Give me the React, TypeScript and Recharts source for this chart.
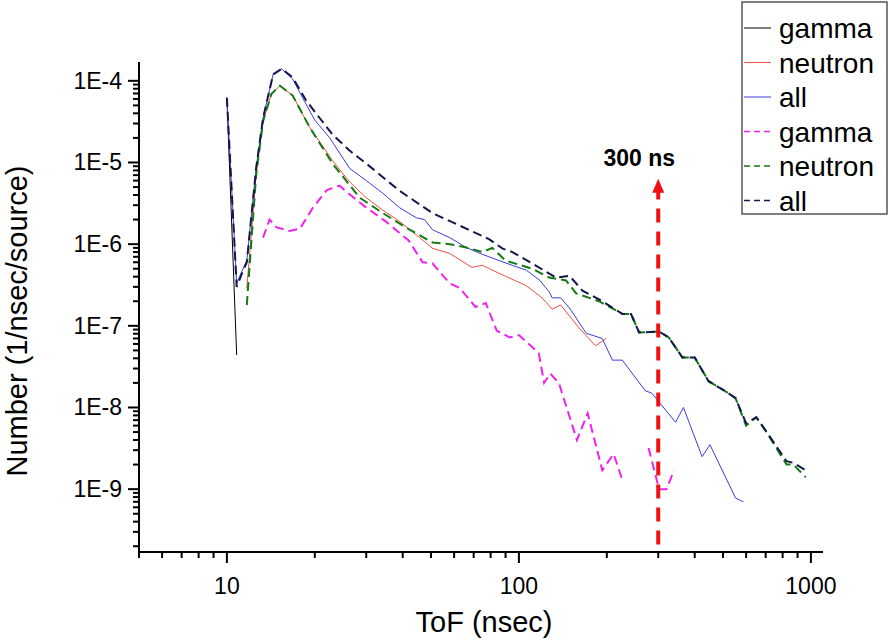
import React from "react";
import { LineChart, Line, XAxis, YAxis, Legend, ReferenceLine } from "recharts";

type Pt = [number, number | null];

// ToF (nsec) vs Number (1/nsec/source)
const gammaSolid: Pt[] = [
  [10, 6.2e-5], [10.8, 4.4e-8],
];

const neutronSolid: Pt[] = [
  [11.7, 2.9e-7], [12.6, 7.2e-6], [13.3, 3.2e-5], [14.2, 6.9e-5], [15.2, 8.7e-5],
  [16.8, 6.6e-5], [19.2, 2.7e-5], [21, 1.7e-5], [23, 1.05e-5], [26.3, 5.8e-6],
  [30, 3.7e-6], [34.2, 2.6e-6], [39, 1.9e-6], [45.7, 1.2e-6], [50.6, 8.9e-7],
  [58, 7.7e-7], [69, 5.2e-7], [75, 5.5e-7], [85.5, 4.4e-7], [106, 3.1e-7],
  [120, 2.2e-7], [130, 1.6e-7], [139, 1.8e-7], [160, 9.6e-8], [183, 5.7e-8],
  [199, 7e-8],
];

const allSolid: Pt[] = [
  [10, 6.2e-5], [10.8, 3.3e-7], [11.3, 4.8e-7], [11.7, 6.3e-7], [12.6, 8.7e-6],
  [13.3, 3.5e-5], [14.4, 1.2e-4], [15.4, 1.4e-4], [16.8, 1.05e-4], [18.5, 5.5e-5],
  [20, 3.3e-5], [22.5, 2.0e-5], [26.3, 8.5e-6], [30, 6e-6], [34.2, 4.2e-6],
  [39, 2.8e-6], [44.6, 2.1e-6], [47.5, 2.0e-6], [50.6, 1.5e-6], [58, 1.2e-6],
  [66, 9.1e-7], [75, 7.5e-7], [85.5, 6.3e-7], [95, 5.5e-7], [106, 4.8e-7],
  [118, 3.6e-7], [127, 2.6e-7], [130, 2.2e-7], [139, 2.2e-7], [150, 1.6e-7],
  [170, 8.1e-8], [193, 7e-8], [209, 3.8e-8], [226, 3.8e-8], [271, 1.6e-8],
  [285, 1.5e-8], [344, 6.6e-9], [366, 1e-8], [424, 2.5e-9], [451, 3.5e-9],
  [552, 7.8e-10], [587, 7e-10],
];

const gammaDashed: Pt[] = [
  [13.3, 1.2e-6], [14.0, 2.0e-6], [14.8, 1.6e-6], [16.4, 1.45e-6], [17.8, 1.55e-6],
  [19.7, 2.8e-6], [22, 4.6e-6], [24.3, 5.2e-6], [26.5, 4.0e-6], [30, 2.8e-6],
  [35, 1.9e-6], [42, 1.1e-6], [46.8, 6e-7], [50.6, 5.8e-7], [58, 3.3e-7],
  [62.7, 2.9e-7], [71, 1.7e-7], [77, 1.9e-7], [84, 8.7e-8], [93, 7.2e-8],
  [100, 7.7e-8], [111, 5.5e-8], [117, 4.6e-8], [122, 2e-8], [128, 2.6e-8],
  [137, 2.0e-8], [158, 4e-9], [172, 8.5e-9], [193, 1.7e-9], [211, 2.7e-9],
  [226, 1.3e-9], [250, null], [278, 3.2e-9], [302, 1.0e-9], [320, 1.0e-9],
  [340, 1.7e-9],
];

const neutronDashed: Pt[] = [
  [11.7, 1.8e-7], [12.6, 7.2e-6], [13.3, 3.2e-5], [14.2, 6.9e-5], [15.2, 8.7e-5],
  [16.8, 6.6e-5], [19.2, 2.7e-5], [23, 9.7e-6], [28.5, 3.7e-6], [34.2, 2.4e-6],
  [41, 1.6e-6], [50.6, 1.05e-6], [58, 1.0e-6], [66, 9.1e-7], [75, 8e-7],
  [81, 9e-7], [90, 6.3e-7], [111, 5.0e-7], [127, 3.9e-7], [145, 3.6e-7],
  [157, 2.5e-7], [188, 2.0e-7], [226, 1.4e-7], [242, 1.4e-7], [258, 8.3e-8],
  [302, 8.5e-8], [326, 7.2e-8], [363, 4.1e-8], [400, 4.1e-8], [446, 2.1e-8],
  [507, 1.6e-8], [552, 1.3e-8], [600, 6.0e-9], [650, 7.6e-9], [700, 5.2e-9],
  [825, 2.0e-9], [870, 2.0e-9], [960, 1.4e-9],
];

const allDashed: Pt[] = [
  [10, 6.2e-5], [10.8, 3.0e-7], [11.3, 4.5e-7], [11.7, 6.0e-7], [12.6, 8.7e-6],
  [13.3, 3.5e-5], [14.4, 1.2e-4], [15.4, 1.4e-4], [16.8, 1.1e-4], [18.7, 5.7e-5],
  [23, 2.2e-5], [26.3, 1.4e-5], [30, 9.7e-6], [39, 4.5e-6], [50.6, 2.4e-6],
  [66, 1.55e-6], [79, 1.15e-6], [88, 8.8e-7], [95, 8.0e-7], [111, 5.8e-7],
  [134, 3.9e-7], [149, 4.1e-7], [165, 2.7e-7], [193, 2.0e-7], [226, 1.4e-7],
  [242, 1.4e-7], [258, 8.3e-8], [302, 8.5e-8], [326, 7.2e-8], [363, 4.1e-8],
  [400, 4.1e-8], [446, 2.1e-8], [507, 1.6e-8], [552, 1.3e-8], [600, 6.4e-9],
  [650, 7.6e-9], [700, 5.2e-9], [825, 2.2e-9], [870, 2.1e-9], [960, 1.7e-9],
];

const xMajor = [10, 100, 1000];
const yMajor = [1e-10, 1e-9, 1e-8, 1e-7, 1e-6, 1e-5, 1e-4];
const X_DOMAIN: [number, number] = [5, 1100];
const Y_DOMAIN: [number, number] = [1.7e-10, 1.7e-4];

const MARK_TOF = 300;
const MARK_RANGE: [number, number] = [2.1e-10, 6.3e-6];
const MARK_TEXT = "300 ns";

const FONT = "Arial, 'Liberation Sans', sans-serif";

const SERIES = [
  { key: "gammaSolid", name: "gamma", color: "#000000", dashed: false, points: gammaSolid },
  { key: "neutronSolid", name: "neutron", color: "#f0503c", dashed: false, points: neutronSolid },
  { key: "allSolid", name: "all", color: "#3c3cdc", dashed: false, points: allSolid },
  { key: "gammaDashed", name: "gamma", color: "#ee22ee", dashed: true, points: gammaDashed },
  { key: "neutronDashed", name: "neutron", color: "#127a12", dashed: true, points: neutronDashed },
  { key: "allDashed", name: "all", color: "#12184e", dashed: true, points: allDashed },
];

// minor ticks 1..9 per decade, kept inside the axis range
const withMinors = (majors: number[], domain: [number, number]) => {
  const out: number[] = [];
  majors.forEach((m) => {
    for (let k = 1; k < 10; k++) {
      const v = k * m;
      if (v >= domain[0] * 0.999 && v <= domain[1]) out.push(v);
    }
  });
  return out;
};
const xTicks = withMinors([1, ...xMajor], X_DOMAIN);
const yTicks = withMinors(yMajor, Y_DOMAIN);

const isDecade = (v: number) => Math.abs(Math.log10(v) - Math.round(Math.log10(v))) < 1e-6;

function XTick(props: any) {
  const { x, y, payload } = props;
  const major = isDecade(payload.value);
  return (
    <g>
      <line x1={x} y1={y} x2={x} y2={y + (major ? 11 : 6)} stroke="#000" strokeWidth={2} />
      {major && (
        <text x={x} y={y + 42} textAnchor="middle" fontSize={23} fontFamily={FONT} fill="#000">
          {payload.value}
        </text>
      )}
    </g>
  );
}

function YTick(props: any) {
  const { x, y, payload } = props;
  const major = isDecade(payload.value);
  const exp = Math.round(Math.log10(payload.value));
  return (
    <g>
      <line x1={x} y1={y} x2={x - (major ? 11 : 6)} y2={y} stroke="#000" strokeWidth={2} />
      {major && (
        <text x={x - 17} y={y + 8} textAnchor="end" fontSize={23} fontFamily={FONT} fill="#000">
          {`1E${exp}`}
        </text>
      )}
    </g>
  );
}

function XTitle(props: any) {
  const vb = props.viewBox || { x: 139, y: 552, width: 684, height: 60 };
  return (
    <text x={vb.x + vb.width / 2 + 3} y={vb.y + 80} textAnchor="middle" fontSize={29} fontFamily={FONT} fill="#000">
      ToF (nsec)
    </text>
  );
}

function YTitle(props: any) {
  const vb = props.viewBox || { x: 79, y: 62, width: 60, height: 490 };
  const cx = vb.x + vb.width - 112;
  const cy = vb.y + vb.height / 2 + 14;
  return (
    <text
      x={cx}
      y={cy}
      transform={`rotate(-90, ${cx}, ${cy})`}
      textAnchor="middle"
      fontSize={29}
      fontFamily={FONT}
      fill="#000"
    >
      Number (1/nsec/source)
    </text>
  );
}

function ArrowShape(props: any) {
  const { x1, y1, x2, y2 } = props;
  const x = (x1 + x2) / 2;
  const top = Math.min(y1, y2);
  const bottom = Math.max(y1, y2);
  return (
    <g>
      <line x1={x} y1={bottom} x2={x} y2={top + 13} stroke="#ee1111" strokeWidth={4} strokeDasharray="14 9" />
      <polygon points={`${x},${top} ${x - 6},${top + 14} ${x + 6},${top + 14}`} fill="#ee1111" />
      <text x={x - 19} y={top - 13} textAnchor="middle" fontSize={23} fontWeight="bold" fontFamily={FONT} fill="#000">
        {MARK_TEXT}
      </text>
    </g>
  );
}

function LegendBox() {
  return (
    <svg width={148} height={216} style={{ display: "block" }}>
      <rect x={1} y={1} width={145} height={212} fill="#fff" stroke="#555" strokeWidth={1.5} />
      {SERIES.map((s, i) => {
        const cy = 27 + i * 34.5;
        return (
          <g key={s.key}>
            <line
              x1={3}
              x2={30}
              y1={cy}
              y2={cy}
              stroke={s.color}
              strokeWidth={s.dashed ? 1.5 : 1}
              strokeDasharray={s.dashed ? "6 4" : undefined}
            />
            <text x={38} y={cy + 10} fontSize={28} fontFamily={FONT} fill="#000">
              {s.name}
            </text>
          </g>
        );
      })}
    </svg>
  );
}

export default function App() {
  return (
    <div style={{ position: "absolute", left: 0, top: 0, width: 892, height: 643, background: "#fff" }}>
      <LineChart width={892} height={643} margin={{ top: 62, right: 69, bottom: 31, left: 79 }}>
        <XAxis
          dataKey="x"
          type="number"
          scale="log"
          domain={X_DOMAIN}
          allowDataOverflow
          ticks={xTicks}
          interval={0}
          height={60}
          tickSize={0}
          tickMargin={0}
          tickLine={false}
          tick={<XTick />}
          axisLine={{ stroke: "#000", strokeWidth: 2 }}
          label={<XTitle />}
        />
        <YAxis
          dataKey="y"
          type="number"
          scale="log"
          domain={Y_DOMAIN}
          allowDataOverflow
          ticks={yTicks}
          interval={0}
          width={60}
          tickSize={0}
          tickMargin={0}
          tickLine={false}
          tick={<YTick />}
          axisLine={{ stroke: "#000", strokeWidth: 2 }}
          label={<YTitle />}
        />
        <Legend
          layout="vertical"
          align="center"
          verticalAlign="middle"
          content={() => <LegendBox />}
          wrapperStyle={{ position: "absolute", left: 741, top: 1, width: 148, height: 216 }}
        />
        {SERIES.map((s) => (
          <Line
            key={s.key}
            data={s.points.map(([x, y]) => ({ x, y }))}
            dataKey="y"
            name={s.name}
            type="linear"
            stroke={s.color}
            strokeWidth={s.dashed ? 2 : 1}
            strokeDasharray={s.dashed ? "9 5" : undefined}
            dot={false}
            activeDot={false}
            connectNulls={false}
            isAnimationActive={false}
          />
        ))}
        <ReferenceLine
          segment={[
            { x: MARK_TOF, y: MARK_RANGE[0] },
            { x: MARK_TOF, y: MARK_RANGE[1] },
          ]}
          ifOverflow="visible"
          shape={(p: any) => <ArrowShape {...p} />}
        />
      </LineChart>
    </div>
  );
}
